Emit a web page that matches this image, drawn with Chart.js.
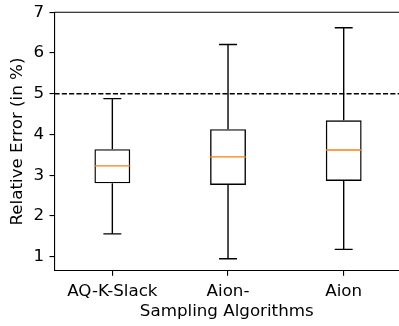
<!DOCTYPE html>
<html>
<head>
<meta charset="utf-8">
<script src="https://cdn.jsdelivr.net/npm/chart.js@4.4.1/dist/chart.umd.min.js"></script>
<style>
  html, body { margin: 0; padding: 0; overflow: hidden; background: #fff; }
  canvas { display: block; }
</style>
</head>
<body>
<canvas id="c" width="399" height="326"></canvas>
<script>
// ---- data ----
const categories  = ['AQ-K-Slack', 'Aion-', 'Aion'];
const positions   = [1, 2, 3];
const whiskerLow  = [1.56, 0.95, 1.18];
const quartile1   = [2.80, 2.76, 2.86];
const medians     = [3.23, 3.45, 3.62];
const quartile3   = [3.64, 4.13, 4.35];
const whiskerHigh = [4.88, 6.21, 6.62];
const threshold   = 5;
const yTicks      = [1, 2, 3, 4, 5, 6, 7];

const FONT = { family: 'DejaVu Sans', size: 16.7 };
const LW = 1.39;

const boxPlotPlugin = {
  id: 'boxPlotExtras',
  afterDatasetsDraw(chart) {
    const ctx = chart.ctx;
    const x = chart.scales.x, y = chart.scales.y;
    const area = chart.chartArea;
    const meta = chart.getDatasetMeta(0);
    ctx.save();
    ctx.strokeStyle = '#000';
    ctx.lineWidth = LW;
    positions.forEach((p, i) => {
      const cx = x.getPixelForValue(p);
      const half = meta.data[i].width / 2;
      const capHalf = half / 2;
      ctx.beginPath();
      ctx.moveTo(cx, y.getPixelForValue(quartile3[i]));
      ctx.lineTo(cx, y.getPixelForValue(whiskerHigh[i]));
      ctx.moveTo(cx, y.getPixelForValue(quartile1[i]));
      ctx.lineTo(cx, y.getPixelForValue(whiskerLow[i]));
      ctx.moveTo(cx - capHalf, y.getPixelForValue(whiskerHigh[i]));
      ctx.lineTo(cx + capHalf, y.getPixelForValue(whiskerHigh[i]));
      ctx.moveTo(cx - capHalf, y.getPixelForValue(whiskerLow[i]));
      ctx.lineTo(cx + capHalf, y.getPixelForValue(whiskerLow[i]));
      ctx.stroke();
    });
    ctx.strokeStyle = '#ff7f0e';
    positions.forEach((p, i) => {
      const cx = x.getPixelForValue(p);
      const half = meta.data[i].width / 2;
      const my = y.getPixelForValue(medians[i]);
      ctx.beginPath();
      ctx.moveTo(cx - half, my);
      ctx.lineTo(cx + half, my);
      ctx.stroke();
    });
    ctx.strokeStyle = '#000';
    ctx.setLineDash([5.1, 2.2]);
    const ty = y.getPixelForValue(threshold);
    ctx.beginPath();
    ctx.moveTo(area.left, ty);
    ctx.lineTo(area.right, ty);
    ctx.stroke();
    ctx.setLineDash([]);
    // top spine (the right spine lies just outside the cropped picture)
    ctx.lineWidth = 1.11;
    ctx.beginPath();
    ctx.moveTo(area.left, area.top);
    ctx.lineTo(area.right, area.top);
    ctx.stroke();
    ctx.restore();
  }
};

new Chart(document.getElementById('c'), {
  type: 'bar',
  data: {
    datasets: [{
      data: positions.map((p, i) => ({ x: p, y: [quartile1[i], quartile3[i]] })),
      backgroundColor: 'rgba(255,255,255,0)',
      borderColor: '#000',
      borderWidth: LW,
      borderSkipped: false,
      barPercentage: 0.31,
      categoryPercentage: 1
    }]
  },
  options: {
    responsive: false,
    devicePixelRatio: 1,
    animation: false,
    layout: { padding: { top: 12.3, left: 0, right: 0, bottom: 0 } },
    plugins: { legend: { display: false }, tooltip: { enabled: false } },
    scales: {
      x: {
        type: 'linear',
        min: 0.5,
        max: 3.478,
        offset: false,
        afterBuildTicks(scale) { scale.ticks = positions.map(v => ({ value: v })); },
        grid: { offset: false, drawOnChartArea: false, drawTicks: true, tickLength: 5, color: '#000', lineWidth: 1.11 },
        border: { display: true, color: '#000', width: 1.11 },
        ticks: {
          color: '#000', font: FONT, padding: 6, maxRotation: 0, autoSkip: false,
          callback: (v) => categories[positions.indexOf(v)]
        },
        title: { display: true, text: 'Sampling Algorithms', color: '#000', font: FONT, padding: { top: 0, bottom: 4 } },
        afterFit(scale) { scale.height = 55.3; scale.paddingLeft = 0; scale.paddingRight = 0; }
      },
      y: {
        type: 'linear',
        min: 0.656,
        max: 7,
        afterBuildTicks(scale) { scale.ticks = yTicks.map(v => ({ value: v })); },
        grid: { drawOnChartArea: false, drawTicks: true, tickLength: 5, color: '#000', lineWidth: 1.11 },
        border: { display: true, color: '#000', width: 1.11 },
        ticks: { color: '#000', font: FONT, padding: 5.5 },
        title: { display: true, text: 'Relative Error (in %)', color: '#000', font: FONT, padding: { top: 7.5, bottom: 0 } },
        afterFit(scale) { scale.width = 54.5; scale.paddingTop = 0; scale.paddingBottom = 0; }
      }
    }
  },
  plugins: [boxPlotPlugin]
});
</script>
</body>
</html>
